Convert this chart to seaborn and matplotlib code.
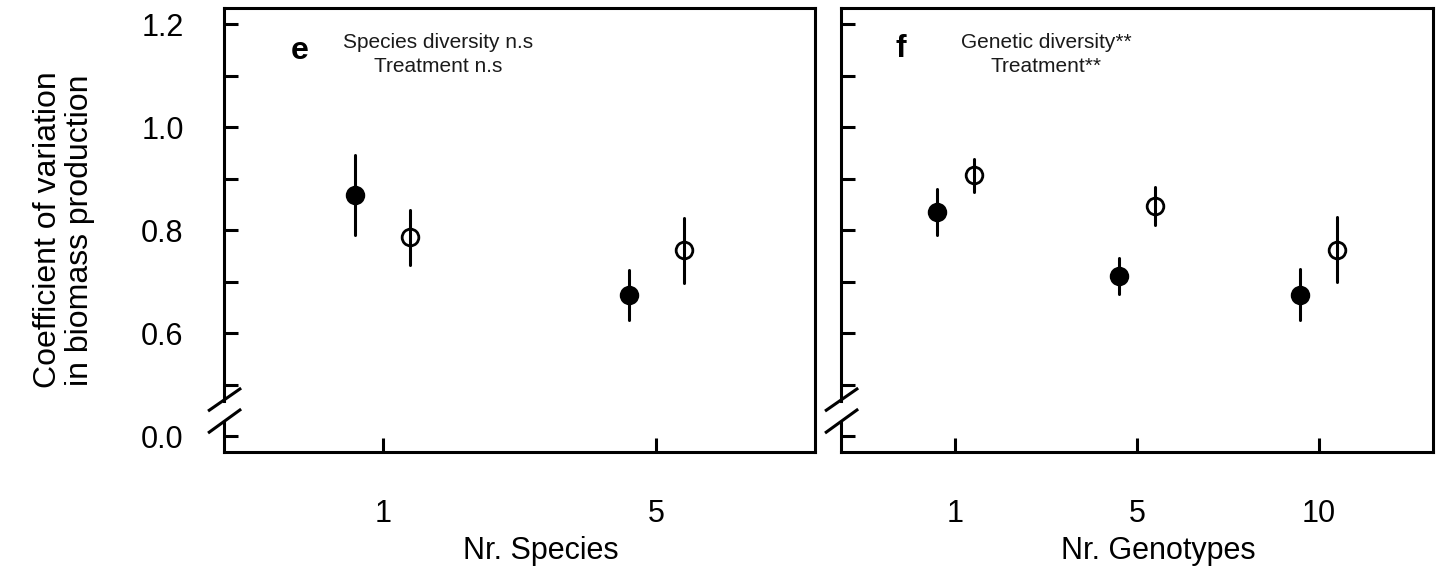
import numpy as np
import pandas as pd
import matplotlib
matplotlib.use("Agg")
import matplotlib.pyplot as plt
import seaborn as sns

# ---------------- data ----------------
treatments = ["Control", "Treatment"]

species_levels = ["1", "5"]
e_control_mean = [0.868, 0.674]
e_control_low = [0.790, 0.625]
e_control_high = [0.946, 0.723]
e_treat_mean = [0.786, 0.761]
e_treat_low = [0.732, 0.697]
e_treat_high = [0.839, 0.823]

genotype_levels = ["1", "5", "10"]
f_control_mean = [0.835, 0.712, 0.675]
f_control_low = [0.790, 0.676, 0.626]
f_control_high = [0.880, 0.746, 0.725]
f_treat_mean = [0.908, 0.848, 0.762]
f_treat_low = [0.875, 0.810, 0.699]
f_treat_high = [0.939, 0.885, 0.825]

ytick_pos = [0.4, 0.5, 0.6, 0.7, 0.8, 0.9, 1.0, 1.1, 1.2]
ytick_labels = ["0.0", "", "0.6", "", "0.8", "", "1.0", "", "1.2"]

e_stats = ["Species diversity n.s", "Treatment n.s"]
f_stats = ["Genetic diversity**", "Treatment**"]


def long_frame(levels, groups):
    rows = []
    for trt, (low, mean, high) in zip(treatments, groups):
        for lev, lo, me, hi in zip(levels, low, mean, high):
            for v in (lo, me, hi):
                rows.append({"level": lev, "treatment": trt, "cv": v})
    return pd.DataFrame(rows)


df_e = long_frame(species_levels, [(e_control_low, e_control_mean, e_control_high),
                                   (e_treat_low, e_treat_mean, e_treat_high)])
df_f = long_frame(genotype_levels, [(f_control_low, f_control_mean, f_control_high),
                                    (f_treat_low, f_treat_mean, f_treat_high)])

# ---------------- style ----------------
sns.set_theme(style="ticks")
plt.rcParams["font.family"] = ["Liberation Sans", "DejaVu Sans"]
plt.rcParams["text.color"] = "black"
plt.rcParams["axes.labelcolor"] = "black"
plt.rcParams["xtick.color"] = "black"
plt.rcParams["ytick.color"] = "black"

W, H = 1438, 568
fig = plt.figure(figsize=(W / 100, H / 100), dpi=100)

def px_axes(left, right, top, bottom):
    return fig.add_axes([left / W, 1 - bottom / H, (right - left) / W, (bottom - top) / H])

ax_e = px_axes(224, 815, 8, 452)
ax_f = px_axes(841, 1433, 8, 452)

LW = 2.2
YLIM = (0.369, 1.232)


def draw_panel(ax, df, levels, xlim, xlabel, letter, stats, letter_xy, stats_xy, show_ylabels):
    sns.pointplot(data=df, x="level", y="cv", hue="treatment", order=levels,
                  hue_order=treatments, estimator="median",
                  errorbar=lambda v: (v.min(), v.max()), dodge=0.2,
                  palette=["black", "black"], markers="o", linestyle="none",
                  markersize=12, markeredgewidth=2.0,
                  err_kws={"linewidth": LW, "linestyle": "-"},
                  legend=False, ax=ax)
    marker_lines = [l for l in ax.lines if l.get_marker() not in (None, "None", "", " ")]
    if len(marker_lines) >= 2:
        marker_lines[1].set_markerfacecolor("none")
        marker_lines[1].set_markeredgecolor("black")
        marker_lines[1].set_zorder(3)
    ax.set_xlim(*xlim)
    ax.set_ylim(*YLIM)
    ax.set_yticks(ytick_pos)
    ax.set_yticklabels(ytick_labels if show_ylabels else [""] * len(ytick_pos))
    ax.tick_params(axis="both", direction="in", length=10, width=LW, colors="black")
    ax.tick_params(axis="x", labelsize=22, pad=34)
    ax.tick_params(axis="y", labelsize=22, pad=29, left=True, labelleft=show_ylabels)
    for side in ["top", "right", "bottom"]:
        ax.spines[side].set_visible(True)
        ax.spines[side].set_linewidth(LW)
        ax.spines[side].set_color("black")
    ax.spines["left"].set_visible(False)

    # left spine with an axis break
    yt = ax.get_yaxis_transform()
    ax.plot([0, 0], [YLIM[0], 0.428], transform=yt, color="black", lw=LW,
            clip_on=False, solid_capstyle="projecting")
    ax.plot([0, 0], [0.469, YLIM[1]], transform=yt, color="black", lw=LW,
            clip_on=False, solid_capstyle="projecting")
    ax.plot([-0.027, 0.029], [0.4485, 0.4932], transform=yt, color="black", lw=LW,
            clip_on=False, solid_capstyle="butt")
    ax.plot([-0.027, 0.029], [0.4058, 0.4524], transform=yt, color="black", lw=LW,
            clip_on=False, solid_capstyle="butt")

    ax.set_xlabel(xlabel, fontsize=22, color="black")
    ax.xaxis.set_label_coords(0.536, -0.19)
    ax.text(*letter_xy, letter, transform=ax.transAxes, fontsize=23, fontweight="bold",
            ha="center", va="center", color="black")
    ax.text(*stats_xy, "\n".join(stats), transform=ax.transAxes, fontsize=15,
            ha="center", va="center", linespacing=1.3, color="#1a1a1a")
    ax.grid(False)


draw_panel(ax_e, df_e, species_levels, (-0.58, 1.58), "Nr. Species", "e", e_stats,
           (0.1286, 0.903), (0.362, 0.895), True)
draw_panel(ax_f, df_f, genotype_levels, (-0.63, 2.63), "Nr. Genotypes", "f", f_stats,
           (0.101, 0.908), (0.346, 0.895), False)

ax_e.set_ylabel("Coefficient of variation\nin biomass production", fontsize=23,
                linespacing=1.1, color="black")
ax_e.yaxis.set_label_coords(-0.218, 0.5)
ax_f.set_ylabel("")

fig.savefig("out.png", dpi=100)
